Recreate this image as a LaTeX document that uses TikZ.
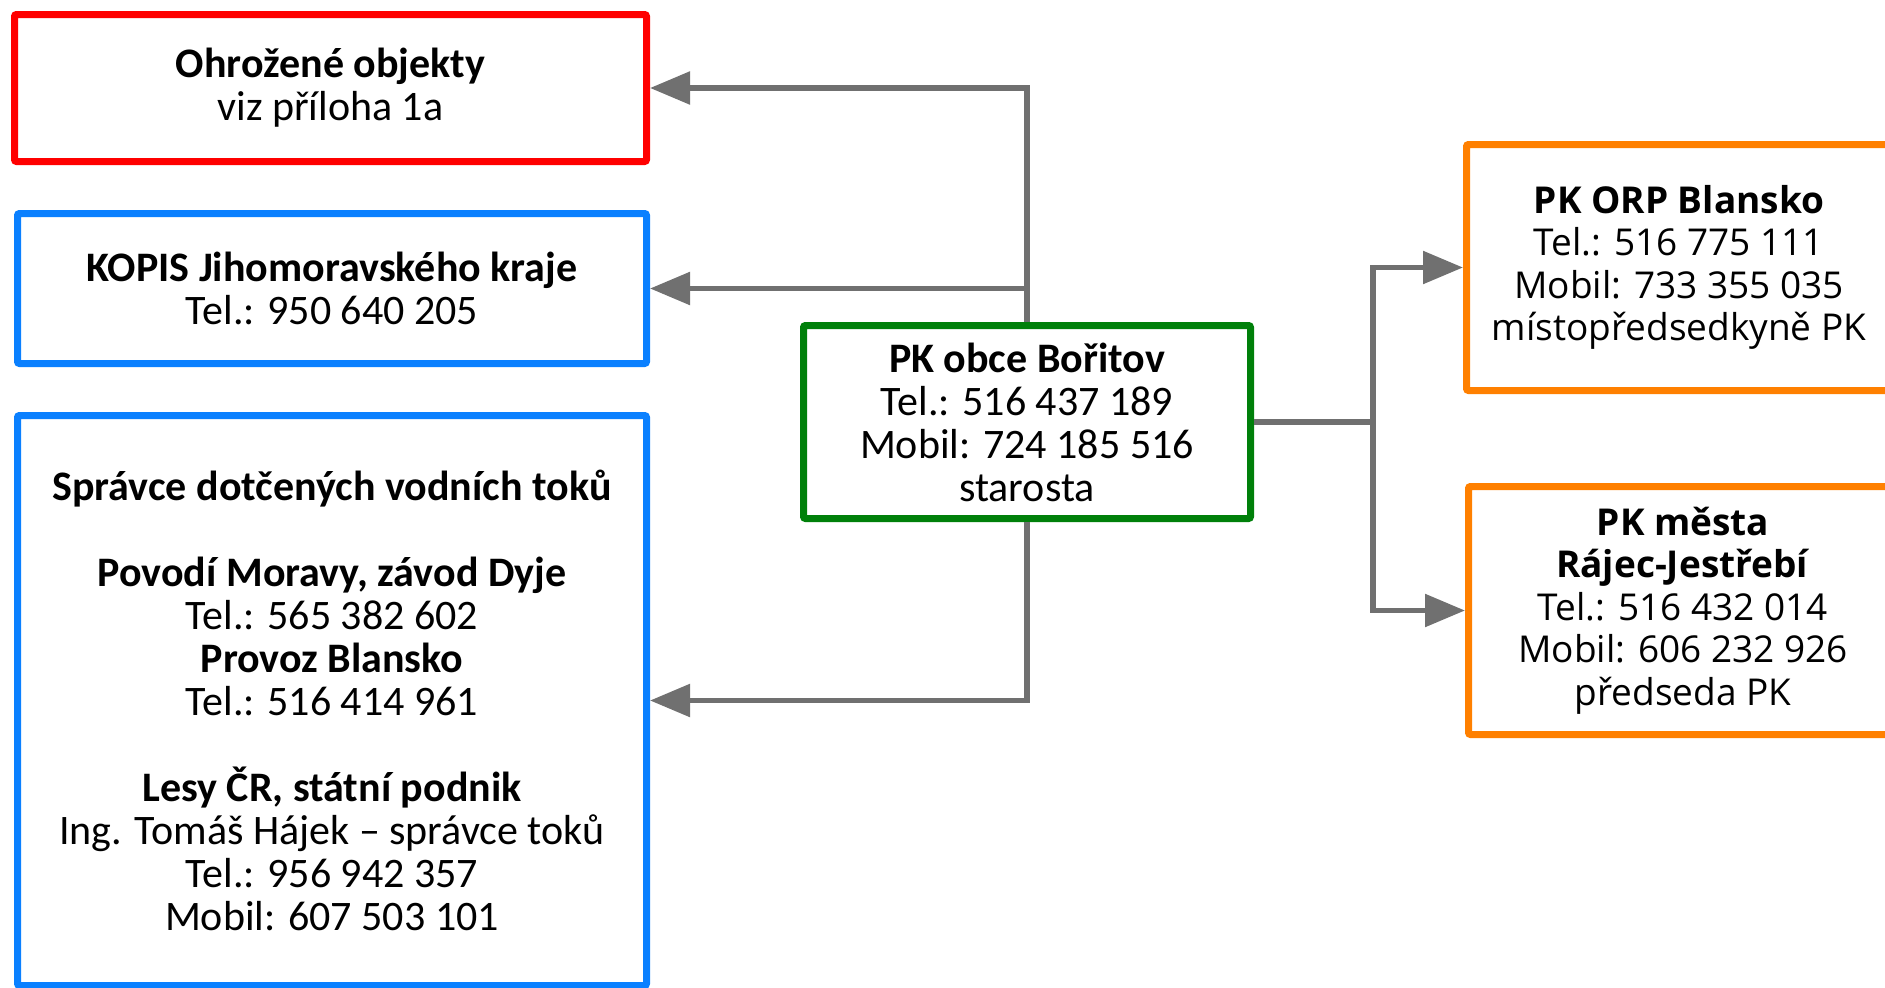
\documentclass[tikz,border=0pt]{standalone}
\usepackage{fontspec}
\setmainfont{Carlito}
\newfontfamily\osans{Open Sans}
\usetikzlibrary{arrows.meta}
\definecolor{cred}{HTML}{FF0000}
\definecolor{cblue}{HTML}{0A80FF}
\definecolor{cgreen}{HTML}{00800A}
\definecolor{corange}{HTML}{FF8000}
\definecolor{cgray}{HTML}{707070}
\tikzset{
  box/.style={draw, line width=7pt, rounded corners=2pt, fill=white, align=center, inner sep=0pt,
    font=\fontsize{42}{43}\selectfont},
  obox/.style={box, font=\osans\fontsize{37}{42.5}\selectfont},
  conn/.style={draw=cgray, line width=5.5pt},
  arr/.style={conn, -{Triangle[length=40pt,width=32pt]}},
}
\begin{document}
\begin{tikzpicture}[x=1pt,y=-1pt]
\useasboundingbox (0,0) rectangle (1885,988);
\clip (0,0) rectangle (1885,988);
\node[box, draw=cred, minimum width=632pt, minimum height=147pt] (red) at (330.5,88)
  {\textbf{Ohrožené objekty}\\viz příloha 1a};
\node[box, draw=cblue, minimum width=629pt, minimum height=150pt] (kopis) at (332,288.5)
  {\textbf{KOPIS Jihomoravského kraje}\\Tel.: 950 640 205};
\node[box, draw=cblue, minimum width=629pt, minimum height=570pt] (spr) at (332,700.5)
  {\textbf{Správce dotčených vodních toků}\\[43pt]
   \textbf{Povodí Moravy, závod Dyje}\\Tel.: 565 382 602\\
   \textbf{Provoz Blansko}\\Tel.: 516 414 961\\[43pt]
   \textbf{Lesy ČR, státní podnik}\\Ing. Tomáš Hájek – správce toků\\
   Tel.: 956 942 357\\Mobil: 607 503 101};
\node[box, draw=cgreen, minimum width=447pt, minimum height=193pt] (pk) at (1027,422)
  {\textbf{PK obce Bořitov}\\Tel.: 516 437 189\\Mobil: 724 185 516\\starosta};
\node[obox, draw=corange, minimum width=425pt, minimum height=246pt] (orp) at (1679,267.5)
  {\textbf{PK ORP Blansko}\\Tel.: 516 775 111\\Mobil: 733 355 035\\místopředsedkyně PK};
\node[obox, draw=corange, minimum width=429pt, minimum height=248pt] (raj) at (1683,610.5)
  {\textbf{PK města}\\\textbf{Rájec-Jestřebí}\\Tel.: 516 432 014\\Mobil: 606 232 926\\předseda PK};
\draw[arr] (pk.north) |- (red.east);
\draw[arr] (pk.north) |- (kopis.east);
\draw[arr] (pk.south) |- (spr.east);
\draw[conn] (pk.east) -- ++(119,0) coordinate (j);
\draw[arr] (j) |- (orp.west);
\draw[arr] (j) |- (raj.west);
\end{tikzpicture}
\end{document}
